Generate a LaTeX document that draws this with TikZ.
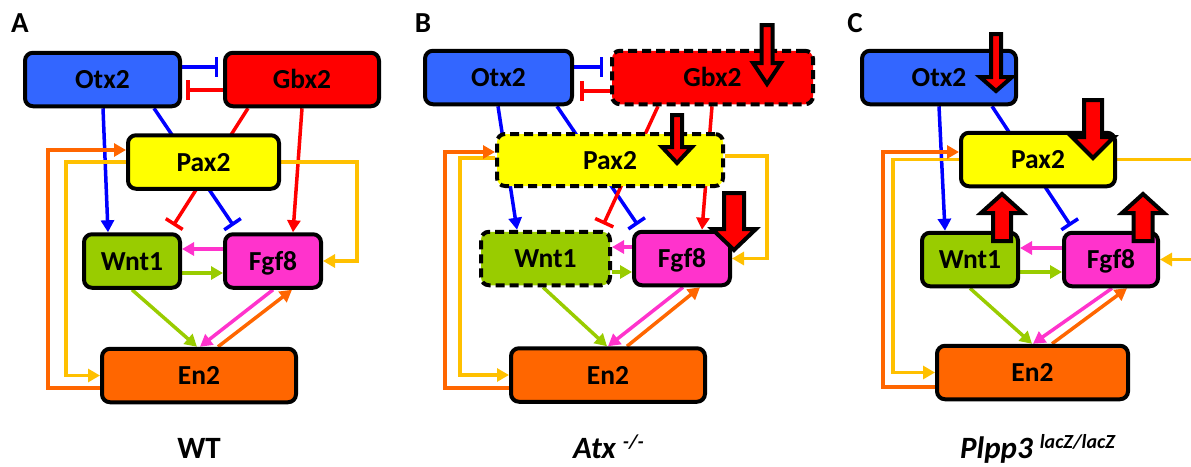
\documentclass[tikz,border=0pt]{standalone}
\usepackage{fontspec}
\setmainfont{Carlito}
\usetikzlibrary{arrows.meta,backgrounds}

\definecolor{otxfill}{HTML}{3366FF}
\definecolor{gbxfill}{HTML}{FF0000}
\definecolor{paxfill}{HTML}{FFFF00}
\definecolor{wntfill}{HTML}{99CC00}
\definecolor{fgffill}{HTML}{FF33CC}
\definecolor{enfill}{HTML}{FF6600}
\definecolor{blueline}{HTML}{0000FF}
\definecolor{redline}{HTML}{FF0000}
\definecolor{yelline}{HTML}{FFC000}
\definecolor{orgline}{HTML}{FF6600}
\definecolor{pinkline}{HTML}{FF33CC}
\definecolor{grnline}{HTML}{99CC00}

\tikzset{
  gene/.style={draw=black, line width=4pt, rounded corners=8pt, inner sep=0pt,
    font=\bfseries\fontsize{27.5}{31}\selectfont, text height=18pt, text depth=0pt,
    minimum height=53.5pt},
  lowered/.style={dash pattern=on 9pt off 5pt},
  act/.style={line width=3.5pt, -{Triangle[length=12pt,width=13pt]}},
  inh/.style={line width=3.5pt, -{Bar[width=20pt]}},
  bigarr/.style={fill=red, draw=black, line width=4pt, line join=miter},
  panel/.style={font=\bfseries\fontsize{29}{33}\selectfont, inner sep=0pt},
  geno/.style={font=\bfseries\fontsize{31}{35}\selectfont, inner sep=0pt, anchor=base}
}

% fat up/down arrow: centre x, tail y, neck y, tip y, half shaft, half head
\newcommand{\fatarrow}[6]{%
  \draw[bigarr] ({#1-#5},#2) -- ({#1+#5},#2) -- ({#1+#5},#3) -- ({#1+#6},#3)
    -- (#1,#4) -- ({#1-#6},#3) -- ({#1-#5},#3) -- cycle;}

\begin{document}
\begin{tikzpicture}[x=1pt,y=-1pt]
\useasboundingbox (0,0) rectangle (1191,466);

% Panel A: wild type
\node[panel] (labA) at (20,23) {A};
\node[gene, fill=otxfill, minimum width=155pt] (OtxA) at (102.5,79.5) {Otx2};
\node[gene, fill=gbxfill, minimum width=154pt] (GbxA) at (302,79.5) {Gbx2};
\node[gene, fill=paxfill, minimum width=151pt] (PaxA) at (203.5,162) {Pax2};
\node[gene, fill=wntfill, minimum width=96pt] (WntA) at (132,261) {Wnt1};
\node[gene, fill=fgffill, minimum width=96pt] (FgfA) at (273,261) {Fgf8};
\node[gene, fill=enfill, minimum width=194pt] (EnA) at (199,375.5) {En2};
\node[geno] (genoA) at (199,458) {WT};

% Panel B: Atx mutant
\node[panel] (labB) at (423,23) {B};
\node[gene, fill=otxfill, minimum width=147pt] (OtxB) at (498.5,77.5) {Otx2};
\node[gene, lowered, fill=gbxfill, minimum width=201pt] (GbxB) at (712.5,77.5) {Gbx2};
\node[gene, lowered, fill=paxfill, minimum width=226pt, minimum height=52pt] (PaxB) at (610,160) {Pax2};
\node[gene, lowered, fill=wntfill, minimum width=129pt] (WntB) at (545.5,258.5) {Wnt1};
\node[gene, fill=fgffill, minimum width=96pt] (FgfB) at (682,258.5) {Fgf8};
\node[gene, fill=enfill, minimum width=194pt] (EnB) at (608,375) {En2};
\node[geno, anchor=base west] (genoB) at (573,458)
  {\itshape Atx \raisebox{10pt}{\fontsize{20}{24}\selectfont -/-}};

% Panel C: Plpp3 mutant
\node[panel] (labC) at (855,23) {C};
\node[gene, fill=otxfill, minimum width=154pt] (OtxC) at (939,77.5) {Otx2};
\node[gene, fill=paxfill, minimum width=154pt] (PaxC) at (1038,159.5) {Pax2};
\node[gene, fill=wntfill, minimum width=96pt] (WntC) at (970,259.5) {Wnt1};
\node[gene, fill=fgffill, minimum width=94pt] (FgfC) at (1111,259.5) {Fgf8};
\node[gene, fill=enfill, minimum width=191pt] (EnC) at (1032.5,372.5) {En2};
\node[geno, anchor=base west] (genoC) at (960,458)
  {\itshape Plpp3 \raisebox{10pt}{\fontsize{20}{24}\selectfont lacZ/lacZ}};

\begin{scope}[on background layer]
% A links
\draw[inh, blueline, shorten >=5pt] (OtxA.east |- 0,67) -- (GbxA.west |- 0,67);
\draw[inh, redline, shorten >=4pt] (GbxA.west |- 0,90) -- (OtxA.east |- 0,90);
\draw[act, blueline] (OtxA.south -| 103,0) -- (WntA.north -| 108,0);
\draw[inh, blueline, shorten >=8pt] (OtxA.south -| 154,0) -- (FgfA.north -| 238,0);
\draw[inh, redline, shorten >=8pt] (GbxA.south -| 248,0) -- (WntA.north -| 169,0);
\draw[act, redline] (GbxA.south -| 302,0) -- (FgfA.north -| 293,0);
\draw[act, yelline] (PaxA.east) -- (PaxA.east -| 357,0) |- (FgfA.east);
\draw[act, yelline] (PaxA.west) -- (PaxA.west -| 66,0) |- (EnA.west);
\draw[act, orgline] (EnA.west |- 0,388) -- (48,388) -- (48,150) -- (PaxA.west |- 0,150);
\draw[act, pinkline] (FgfA.west |- 0,249) -- (WntA.east |- 0,249);
\draw[act, grnline] (WntA.east |- 0,273) -- (FgfA.west |- 0,273);
\draw[act, grnline] (WntA.south -| 132,0) -- (EnA.north -| 197,0);
\draw[act, pinkline] (FgfA.south -| 273,0) -- (EnA.north -| 200,0);
\draw[act, orgline] (EnA.north -| 218,0) -- (FgfA.south -| 292,0);

% B links
\draw[inh, blueline, shorten >=7pt] (OtxB.east |- 0,67) -- (GbxB.west |- 0,67);
\draw[inh, redline, shorten >=6pt] (GbxB.west |- 0,91) -- (OtxB.east |- 0,91);
\draw[act, blueline] (OtxB.south -| 498,0) -- (WntB.north -| 517,0);
\draw[inh, blueline, shorten >=6pt] (OtxB.south -| 557,0) -- (FgfB.north -| 641,0);
\draw[inh, redline, shorten >=6pt] (GbxB.south -| 658,0) -- (WntB.north -| 601,0);
\draw[act, redline] (GbxB.south -| 712,0) -- (FgfB.north -| 702,0);
\draw[act, yelline] (PaxB.east |- 0,156) -- (767,156) |- (FgfB.east);
\draw[act, yelline] (PaxB.west |- 0,158) -- (460,158) |- (EnB.west);
\draw[act, orgline] (EnB.west |- 0,388) -- (445,388) -- (445,152) -- (PaxB.west |- 0,152);
\draw[act, pinkline] (FgfB.west |- 0,247) -- (WntB.east |- 0,247);
\draw[act, grnline] (WntB.east |- 0,272) -- (FgfB.west |- 0,272);
\draw[act, grnline] (WntB.south -| 543,0) -- (EnB.north -| 607,0);
\draw[act, pinkline] (FgfB.south -| 683,0) -- (EnB.north -| 608,0);
\draw[act, orgline] (EnB.north -| 627,0) -- (FgfB.south -| 700,0);

% C links
\draw[act, blueline] (OtxC.south -| 939,0) -- (WntC.north -| 945,0);
\draw[inh, blueline, shorten >=6pt] (OtxC.south -| 992,0) -- (FgfC.north -| 1074,0);
\draw[act, yelline] (PaxC.east) -- (PaxC.east -| 1200,0) |- (FgfC.east);
\draw[act, yelline] (PaxC.west) -- (PaxC.west -| 893,0) |- (EnC.west);
\draw[act, orgline] (EnC.west |- 0,387) -- (883,387) -- (883,152) -- (PaxC.west |- 0,152);
\draw[act, pinkline] (FgfC.west |- 0,248) -- (WntC.east |- 0,248);
\draw[act, grnline] (WntC.east |- 0,272) -- (FgfC.west |- 0,272);
\draw[act, grnline] (WntC.south -| 970,0) -- (EnC.north -| 1032,0);
\draw[act, pinkline] (FgfC.south -| 1112,0) -- (EnC.north -| 1033,0);
\draw[act, orgline] (EnC.north -| 1052,0) -- (FgfC.south -| 1127,0);
\end{scope}

% fat arrows, B
\fatarrow{767}{25}{63}{84}{5.5}{14}
\fatarrow{677}{115}{147}{163}{5}{15}
\fatarrow{734}{193}{229}{250}{10}{22}

% fat arrows, C
\fatarrow{996}{34}{77}{91}{5}{16}
\fatarrow{1093}{100}{137}{158}{9}{21}
\fatarrow{1002}{241}{213}{194}{9}{21}
\fatarrow{1143}{241}{213}{194}{9.5}{21}

\end{tikzpicture}
\end{document}
